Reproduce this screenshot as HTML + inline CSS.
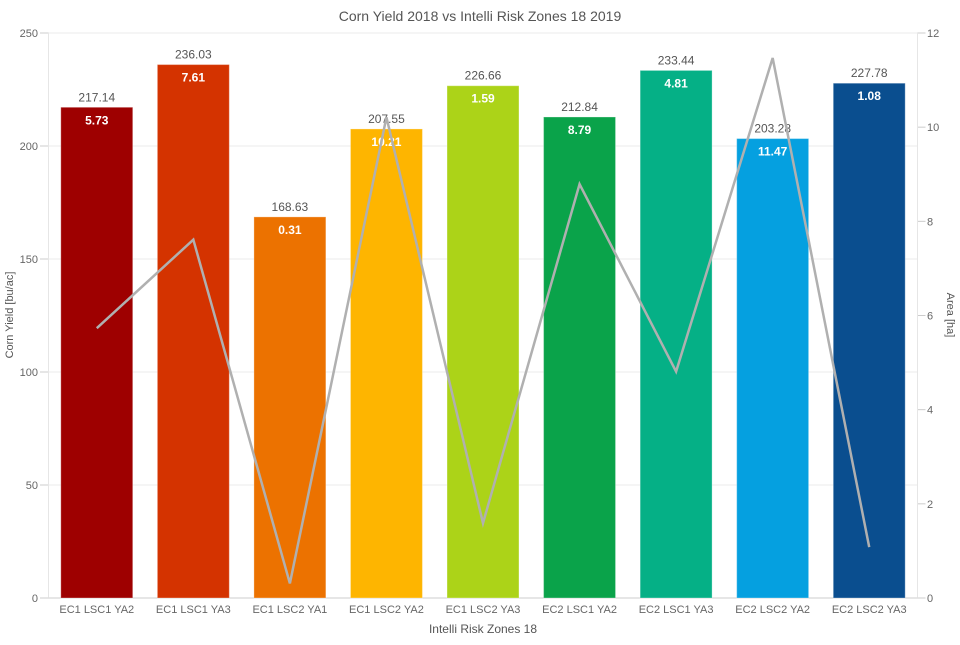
<!DOCTYPE html>
<html><head><meta charset="utf-8"><style>
body{margin:0;background:#fff;font-family:"Liberation Sans",sans-serif}
</style></head><body>
<svg id="c" width="960" height="640" xmlns="http://www.w3.org/2000/svg"></svg>
<script>
const categories=["EC1 LSC1 YA2","EC1 LSC1 YA3","EC1 LSC2 YA1","EC1 LSC2 YA2","EC1 LSC2 YA3","EC2 LSC1 YA2","EC2 LSC1 YA3","EC2 LSC2 YA2","EC2 LSC2 YA3"];
const yieldValues=[217.14,236.03,168.63,207.55,226.66,212.84,233.44,203.28,227.78];
const areaValues=[5.73,7.61,0.31,10.21,1.59,8.79,4.81,11.47,1.08];
const barColors=["#9e0000","#d43300","#ec7200","#feb500","#acd318","#0aa34a","#05b086","#05a0e0","#0a4e8f"];
const leftTicks=[0,50,100,150,200,250];
const rightTicks=[0,2,4,6,8,10,12];
const NS="http://www.w3.org/2000/svg";
const svg=document.getElementById('c');
const L=48.5,R=917.5,T=33,B=598;
const band=(R-L)/categories.length;
const xC=i=>L+band*(i+0.5);
const yL=v=>B-(v/250)*(B-T);
const yR=v=>B-(v/12)*(B-T);
function mk(t,a,txt){const e=document.createElementNS(NS,t);for(const k in a)e.setAttribute(k,a[k]);if(txt!==undefined)e.textContent=txt;svg.appendChild(e);return e;}
let e;
e=mk('text',{x:480,y:21,'text-anchor':'middle','font-size':14,fill:'#555'},'Corn Yield 2018 vs Intelli Risk Zones 18 2019');


leftTicks.forEach(v=>{
 e=mk('line',{x1:L,x2:R,y1:yL(v),y2:yL(v),stroke:'#ebebeb'});
 
 
 mk('line',{x1:40,x2:L,y1:yL(v),y2:yL(v),stroke:'#ccc'});
 e=mk('text',{x:38,y:yL(v)+4,'text-anchor':'end','font-size':11,fill:'#666'},v);
 
 
});
rightTicks.forEach(v=>{
 mk('line',{x1:R,x2:R+8,y1:yR(v),y2:yR(v),stroke:'#ccc'});
 e=mk('text',{x:927,y:yR(v)+4,'text-anchor':'start','font-size':11,fill:'#666'},v);
 
 
});
mk('line',{x1:L,x2:L,y1:T,y2:B,stroke:'#e6e6e6'});
mk('line',{x1:R,x2:R,y1:T,y2:B,stroke:'#e6e6e6'});
mk('line',{x1:L,x2:R,y1:B,y2:B,stroke:'#ccc'});
const bw=band*0.745;
categories.forEach((c,i)=>{
 const y=yL(yieldValues[i]);
 e=mk('rect',{x:xC(i)-bw/2,y:y,width:bw,height:B-y,fill:barColors[i],stroke:'rgba(255,255,255,0.3)'});
 
 
 e=mk('text',{x:xC(i),y:y-6,'text-anchor':'middle','font-size':12,fill:'#555'},yieldValues[i].toFixed(2));
 
 
 e=mk('text',{x:xC(i),y:y+17,'text-anchor':'middle','font-size':12,'font-weight':'bold',fill:'#fff'},areaValues[i].toFixed(2));
 
 
 e=mk('text',{x:xC(i),y:613,'text-anchor':'middle','font-size':11,fill:'#666'},c);
 
 
});
e=mk('polyline',{points:areaValues.map((v,i)=>xC(i)+','+yR(v)).join(' '),fill:'none',stroke:'#b0b0b0','stroke-width':2.5});


e=mk('text',{x:483,y:633,'text-anchor':'middle','font-size':12,fill:'#555'},'Intelli Risk Zones 18');


e=mk('text',{x:13,y:315,'text-anchor':'middle','font-size':11,fill:'#555',transform:'rotate(-90 13 315)'},'Corn Yield [bu/ac]');


e=mk('text',{x:947,y:315,'text-anchor':'middle','font-size':11,fill:'#555',transform:'rotate(90 947 315)'},'Area [ha]');


</script>
</body></html>
